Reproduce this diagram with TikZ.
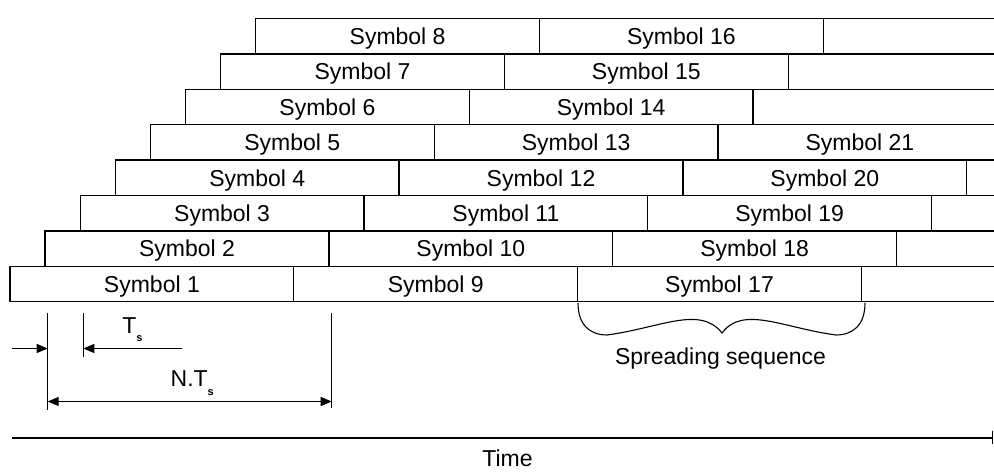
\documentclass[tikz,border=0pt]{standalone}
\usepackage{fontspec}
\setmainfont{Liberation Sans}
\usepackage{tikz}
\usetikzlibrary{positioning, arrows.meta}
\newcommand{\Tsym}{T\raisebox{-8.5pt}{\fontsize{11}{11}\selectfont\bfseries s}}

\begin{document}
\begin{tikzpicture}[x=1pt, y=1pt, line width=1.3pt]
        \tikzstyle{symbox} = [rectangle, draw, minimum width=283.8pt, minimum height=35.4pt, inner sep=0pt, outer sep=0pt, text height=16.5pt, text depth=0pt, font=\fontsize{23}{27}\selectfont]
        \tikzstyle{lbl} = [inner sep=0pt, font=\fontsize{23}{27}\selectfont]
        \tikzstyle{arrow} = [line width=1.2pt, -{Triangle[length=11pt,width=9pt]}]
        \tikzstyle{both} = [line width=1.2pt, {Triangle[length=11pt,width=9pt]}-{Triangle[length=11pt,width=9pt]}]

        \useasboundingbox (0,0) rectangle (994,473);
        \clip (0,0) rectangle (994,473);

        % rows of symbols
        \node [symbox] (s1) at (151.9,189) {Symbol 1};
        \node [symbox, right=0pt of s1] (s9) {Symbol 9};
        \node [symbox, right=0pt of s9] (s17) {Symbol 17};
        \node [symbox, right=0pt of s17] (s25) {};

        \node [symbox, above=0pt of s1, xshift=35.1pt] (s2) {Symbol 2};
        \node [symbox, right=0pt of s2] (s10) {Symbol 10};
        \node [symbox, right=0pt of s10] (s18) {Symbol 18};
        \node [symbox, right=0pt of s18] (s26) {};

        \node [symbox, above=0pt of s2, xshift=35.1pt] (s3) {Symbol 3};
        \node [symbox, right=0pt of s3] (s11) {Symbol 11};
        \node [symbox, right=0pt of s11] (s19) {Symbol 19};
        \node [symbox, right=0pt of s19] (s27) {};

        \node [symbox, above=0pt of s3, xshift=35.1pt] (s4) {Symbol 4};
        \node [symbox, right=0pt of s4] (s12) {Symbol 12};
        \node [symbox, right=0pt of s12] (s20) {Symbol 20};
        \node [symbox, right=0pt of s20] (s28) {};

        \node [symbox, above=0pt of s4, xshift=35.1pt] (s5) {Symbol 5};
        \node [symbox, right=0pt of s5] (s13) {Symbol 13};
        \node [symbox, right=0pt of s13] (s21) {Symbol 21};

        \node [symbox, above=0pt of s5, xshift=35.1pt] (s6) {Symbol 6};
        \node [symbox, right=0pt of s6] (s14) {Symbol 14};
        \node [symbox, right=0pt of s14] (s22) {};

        \node [symbox, above=0pt of s6, xshift=35.1pt] (s7) {Symbol 7};
        \node [symbox, right=0pt of s7] (s15) {Symbol 15};
        \node [symbox, right=0pt of s15] (s23) {};

        \node [symbox, above=0pt of s7, xshift=35.1pt] (s8) {Symbol 8};
        \node [symbox, right=0pt of s8] (s16) {Symbol 16};
        \node [symbox, right=0pt of s16] (s24) {};

        % timing marks
        \coordinate (aTop) at (47.7,160.3);
        \coordinate (aBot) at (47.7,63);
        \coordinate (bTop) at (83.3,160.3);
        \coordinate (bBot) at (83.3,116.3);
        \coordinate (cTop) at (331.7,160.3);
        \coordinate (cBot) at (331.7,65);
        \coordinate (inL) at (12,124.5);
        \coordinate (tsR) at (182,124.5);
        \coordinate (ntsL) at (47.7,71.5);
        \coordinate (ntsR) at (331.7,71.5);

        \draw [line width=1.2pt] (aTop) -- (aBot);
        \draw [line width=1.2pt] (bTop) -- (bBot);
        \draw [line width=1.2pt] (cTop) -- (cBot);
        \draw [arrow] (inL) -- (aTop |- inL);
        \draw [arrow] (tsR) -- (bTop |- tsR);
        \draw [both] (ntsL) -- (ntsR);

        \node [lbl, anchor=base west] (tslbl) at (121.7,139.7) {\Tsym};
        \node [lbl, anchor=base west] (ntslbl) at (170,86.3) {N.\Tsym};

        % spreading sequence brace
        \draw [line width=1.1pt] (578,170) .. controls (578,148) and (590,138) .. (607,138)
            .. controls (660,145) and (700,168) .. (722,140)
            .. controls (743,168) and (783,145) .. (836,138)
            .. controls (853,138) and (865,148) .. (865,170);
        \node [lbl, anchor=base] (spread) at (720.5,108.5) {Spreading sequence};

        % time axis
        \coordinate (t0) at (12,35);
        \coordinate (t1) at (993,35);
        \draw [line width=1.3pt, -{Bar[width=13pt]}] (t0) -- (t1);
        \node [lbl, anchor=base] (time) at (507.5,6.3) {Time};
\end{tikzpicture}
\end{document}
